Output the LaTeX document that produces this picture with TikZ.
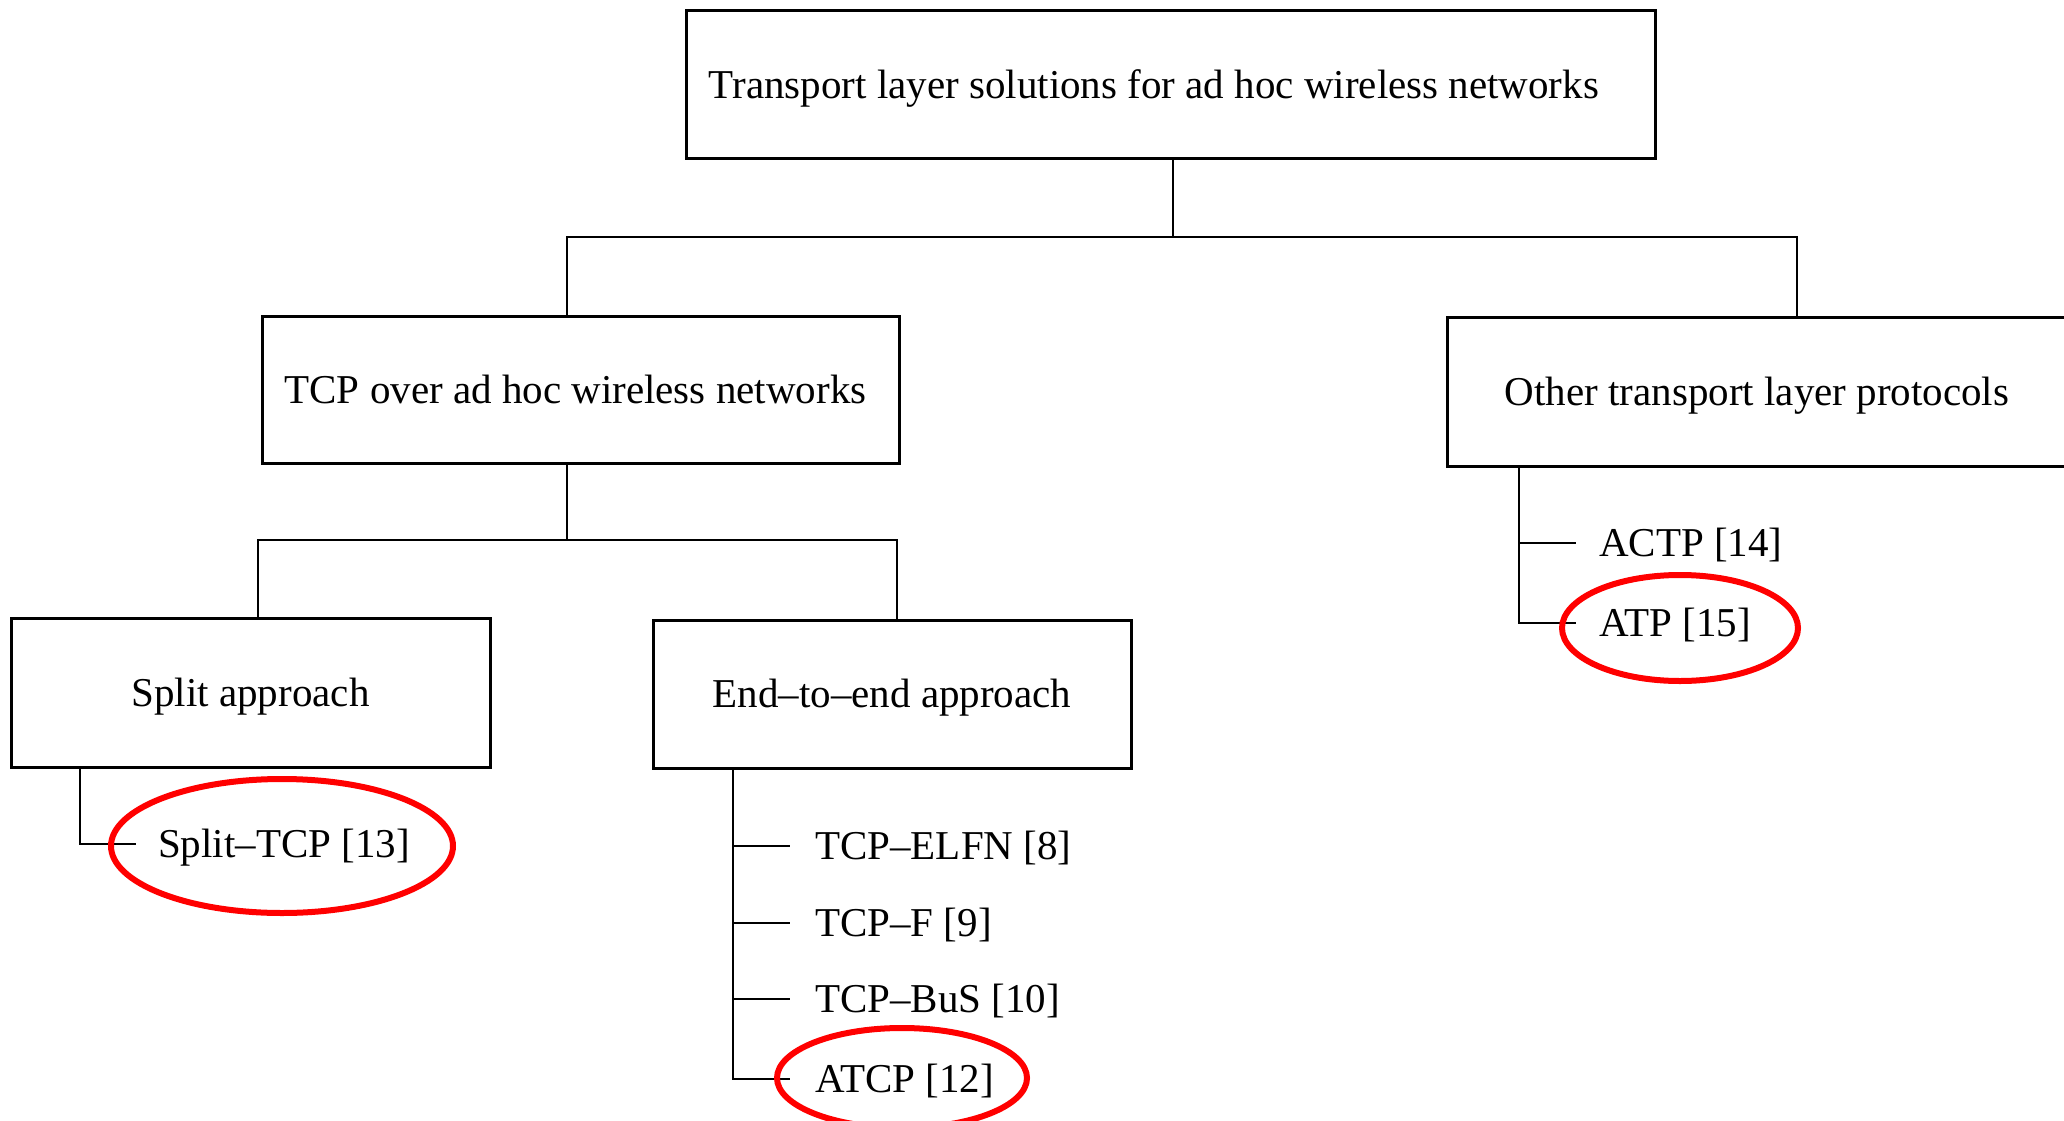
\documentclass[tikz,border=0pt]{standalone}
\usepackage{fontspec}
\setmainfont{Liberation Serif}
\begin{document}
\begin{tikzpicture}[x=1pt,y=-1pt,
  font=\fontsize{41}{46}\selectfont,
  box/.style={draw, line width=3pt, inner sep=0pt, text height=31pt, text depth=4pt},
  leaf/.style={anchor=west, inner sep=0pt, text height=31pt, text depth=4pt},
  conn/.style={line width=2.6pt},
  hilite/.style={draw=red, line width=6pt}]
\clip (0,0) rectangle (2064,1121);

% category boxes
\node[box, minimum width=969pt, minimum height=148pt] (top)   at (1170.5,85)  {\hspace*{-33pt}Transport layer solutions for ad hoc wireless networks};
\node[box, minimum width=637pt, minimum height=147pt] (tcp)   at (580.5,389.5) {\hspace*{-10pt}TCP over ad hoc wireless networks};
\node[box, minimum width=620pt, minimum height=149pt] (other) at (1757,391.5)  {Other transport layer protocols};
\node[box, minimum width=479pt, minimum height=149pt] (split) at (250.5,692.5) {Split approach};
\node[box, minimum width=478pt, minimum height=148pt] (e2e)   at (892,694)     {End--to--end approach};

% protocol entries
\node[leaf] (actp)     at (1599,543)  {ACTP [14]};
\node[leaf] (atp)      at (1599,623)  {ATP [15]};
\node[leaf] (splittcp) at (158,844)   {Split--TCP [13]};
\node[leaf] (elfn)     at (815,846)   {TCP--ELFN [8]};
\node[leaf] (tcpf)     at (815,923)   {TCP--F [9]};
\node[leaf] (bus)      at (815,999)   {TCP--BuS [10]};
\node[leaf] (atcp)     at (815,1079)  {ATCP [12]};

% junction points of the tree
\coordinate (jt) at (1173,237);
\coordinate (jl) at (567,237);
\coordinate (jr) at (1797,237);
\coordinate (kt) at (567,540);
\coordinate (kl) at (258,540);
\coordinate (kr) at (897,540);
\coordinate (ss) at (80,0);
\coordinate (es) at (733,0);
\coordinate (os) at (1519,0);

% first level
\draw[conn] (jt |- top.south) -- (jt);
\draw[conn] (jl |- tcp.north) -- (jl) -- (jr) -- (jr |- other.north);

% second level
\draw[conn] (kt |- tcp.south) -- (kt);
\draw[conn] (kl |- split.north) -- (kl) -- (kr) -- (kr |- e2e.north);

% entry lists
\draw[conn] (ss |- split.south) |- ([xshift=-22pt]splittcp.west);
\draw[conn] (es |- e2e.south) |- ([xshift=-25pt]atcp.west);
\draw[conn] (es |- elfn.west) -- ([xshift=-25pt]elfn.west);
\draw[conn] (es |- tcpf.west) -- ([xshift=-25pt]tcpf.west);
\draw[conn] (es |- bus.west) -- ([xshift=-25pt]bus.west);
\draw[conn] (os |- other.south) |- ([xshift=-23pt]atp.west);
\draw[conn] (os |- actp.west) -- ([xshift=-23pt]actp.west);

% highlight rings
\draw[hilite] (282,846) ellipse [x radius=171, y radius=67];
\draw[hilite] (902,1078) ellipse [x radius=125, y radius=50];
\draw[hilite] (1680,628) ellipse [x radius=118, y radius=53];
\end{tikzpicture}
\end{document}
